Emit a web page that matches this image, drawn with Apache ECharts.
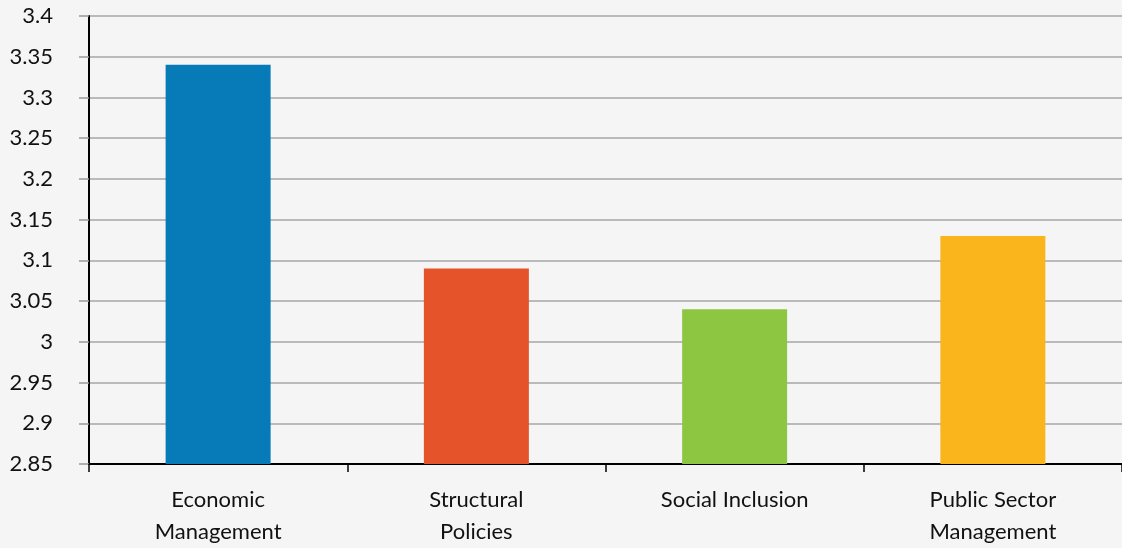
<!DOCTYPE html>
<html>
<head>
<meta charset="utf-8">
<script src="https://cdn.jsdelivr.net/npm/echarts@6/dist/echarts.min.js"></script>
<style>
  html, body { margin: 0; padding: 0; background: #f5f5f5; }
  #main { width: 1122px; height: 548px; }
</style>
</head>
<body>
<div id="main"></div>
<script>
var chartDom = document.getElementById('main');
var myChart = echarts.init(chartDom);
var option;

const categories = ['Economic\nManagement', 'Structural\nPolicies', 'Social Inclusion', 'Public Sector\nManagement'];
const scores = [3.34, 3.09, 3.04, 3.13];
const barColors = ['#067bb8', '#e5532a', '#8dc641', '#f9b51b'];

const fontName = 'Lato';

option = {
  backgroundColor: '#f5f5f5',
  animation: false,
  grid: {
    left: 89,
    right: -1,
    top: 16,
    bottom: 83
  },
  xAxis: {
    type: 'category',
    data: categories,
    axisLine: { lineStyle: { color: '#000', width: 2 } },
    axisTick: { show: true, length: 8, lineStyle: { color: '#000', width: 1.5 } },
    axisLabel: {
      color: '#111',
      fontFamily: fontName,
      fontSize: 22,
      lineHeight: 32,
      margin: 20
    }
  },
  yAxis: {
    type: 'value',
    min: 2.85,
    max: 3.4,
    interval: 0.05,
    axisLine: { show: true, lineStyle: { color: '#000', width: 2 } },
    axisTick: { show: true, length: 10, lineStyle: { color: '#999', width: 1.5 } },
    splitLine: { lineStyle: { color: '#a6a6a6', width: 1.5 } },
    axisLabel: {
      color: '#111',
      fontFamily: fontName,
      fontSize: 22,
      margin: 36,
      formatter: function (v) { return String(parseFloat(v.toFixed(2))); }
    }
  },
  series: [
    {
      type: 'bar',
      barWidth: 105,
      data: scores.map((v, i) => ({ value: v, itemStyle: { color: barColors[i] } }))
    }
  ]
};

option && myChart.setOption(option);
</script>
</body>
</html>
